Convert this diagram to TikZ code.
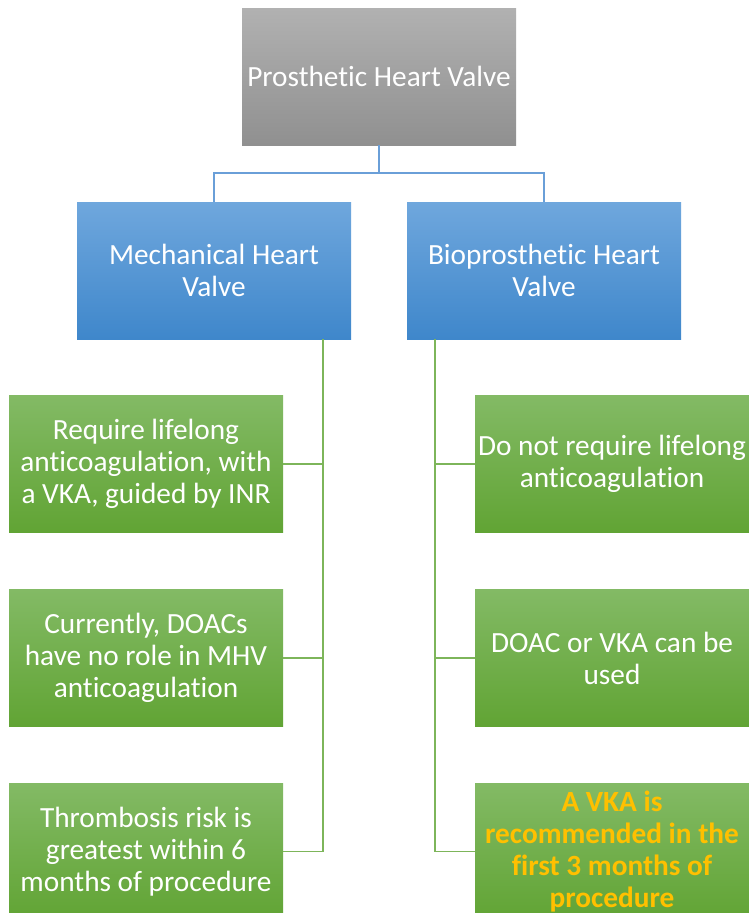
\documentclass[tikz,border=0pt]{standalone}
\usepackage{fontspec}
\setmainfont{Carlito}[Ligatures=NoCommon]
\definecolor{grayT}{HTML}{B1B1B1}
\definecolor{grayB}{HTML}{909090}
\definecolor{blueT}{HTML}{6FA7DD}
\definecolor{blueB}{HTML}{3F87CB}
\definecolor{greenT}{HTML}{83BA65}
\definecolor{greenB}{HTML}{61A434}
\definecolor{blueLine}{HTML}{6A9FD8}
\definecolor{greenLine}{HTML}{7DB55A}
\definecolor{vkaOrange}{HTML}{FFC000}
\begin{document}
\begin{tikzpicture}[x=1pt,y=-1pt,
  box/.style={minimum width=274pt,minimum height=137pt,inner sep=0pt,align=center,
    text=white,font=\fontsize{29.3}{32}\selectfont},
  graybox/.style={box,top color=grayT,bottom color=grayB},
  bluebox/.style={box,top color=blueT,bottom color=blueB},
  greenbox/.style={box,top color=greenT,bottom color=greenB},
  bline/.style={draw=blueLine,line width=1.3pt},
  gline/.style={draw=greenLine,line width=1.3pt}]
\clip (0,0) rectangle (749,913);
\fill[white] (0,0) rectangle (749,913);
\node[graybox] (top) at (379,76.5) {Prosthetic Heart Valve};
\node[bluebox] (mech) at (214,270.5) {Mechanical Heart\\Valve};
\node[bluebox] (bio) at (544,270.5) {Bioprosthetic Heart\\Valve};
\node[greenbox] (m1) at (146,464) {Require lifelong\\anticoagulation, with\\a VKA, guided by INR};
\node[greenbox] (m2) at (146,658) {Currently, DOACs\\have no role in MHV\\anticoagulation};
\node[greenbox] (m3) at (146,851.5) {Thrombosis risk is\\greatest within 6\\months of procedure};
\node[greenbox] (b1) at (612,464) {Do not require lifelong\\anticoagulation};
\node[greenbox] (b2) at (612,658) {DOAC or VKA can be\\used};
\node[greenbox,text=vkaOrange,font=\fontsize{29.3}{32}\selectfont\bfseries] (b3) at (612,851.5) {A VKA is\\recommended in the\\first 3 months of\\procedure};
\coordinate (split) at (379,173);
\coordinate (mv) at (323,339);
\coordinate (bv) at (435,339);
\draw[bline] (top.south) -- (split) -| (mech.north);
\draw[bline] (split) -| (bio.north);
\draw[gline] (mv) |- (m1.east);
\draw[gline] (mv) |- (m2.east);
\draw[gline] (mv) |- (m3.east);
\draw[gline] (bv) |- (b1.west);
\draw[gline] (bv) |- (b2.west);
\draw[gline] (bv) |- (b3.west);
\end{tikzpicture}
\end{document}
